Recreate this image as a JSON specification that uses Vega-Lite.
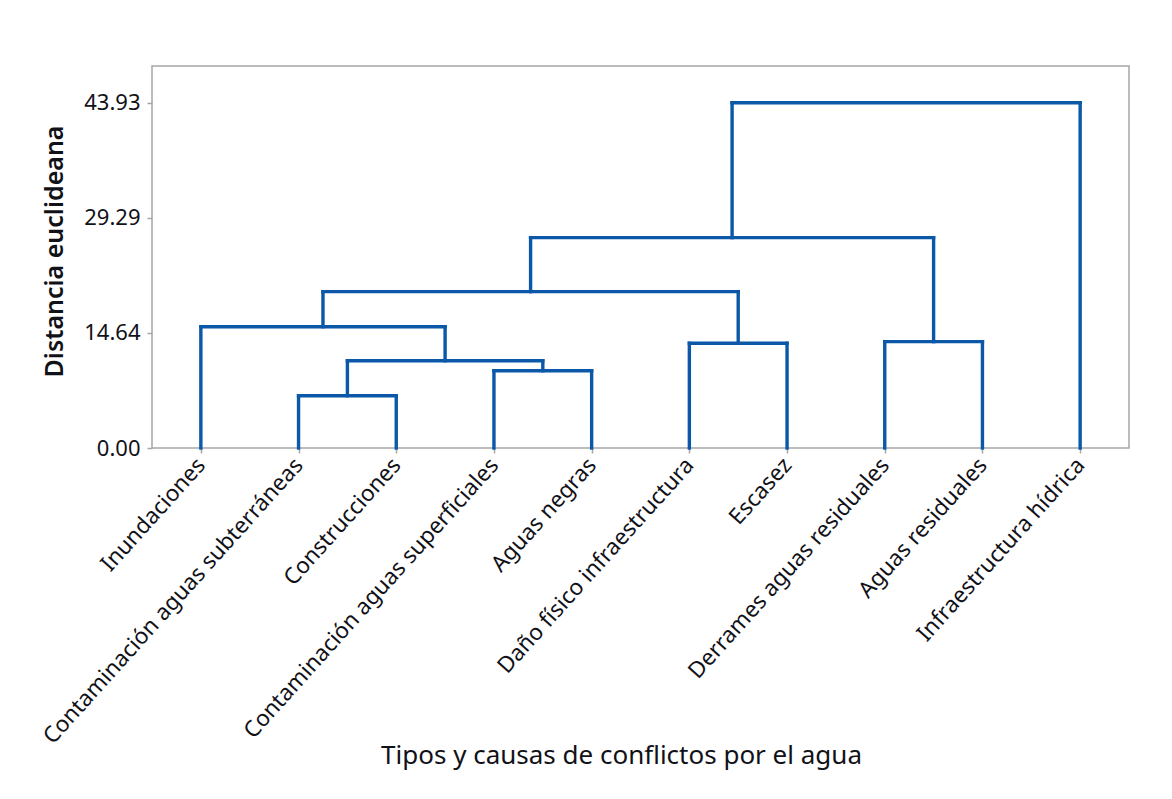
{
  "$schema": "https://vega.github.io/schema/vega-lite/v6.json",
  "width": 977,
  "height": 382,
  "autosize": {"type": "none"},
  "padding": {"left": 152, "top": 66, "right": 43, "bottom": 351},
  "background": "white",
  "config": {
    "view": {"stroke": "#a6a6a6", "strokeWidth": 1.5},
    "font": "Noto Sans"
  },
  "data": {
    "values": [
      {"cluster": "A", "xl": 2, "xr": 3, "hl": 0, "hr": 0, "h": 6.65},
      {"cluster": "B", "xl": 4, "xr": 5, "hl": 0, "hr": 0, "h": 9.83},
      {"cluster": "C", "xl": 2.5, "xr": 4.5, "hl": 6.65, "hr": 9.83, "h": 11.1},
      {"cluster": "D", "xl": 1, "xr": 3.5, "hl": 0, "hr": 11.1, "h": 15.43},
      {"cluster": "E", "xl": 6, "xr": 7, "hl": 0, "hr": 0, "h": 13.32},
      {"cluster": "F", "xl": 2.25, "xr": 6.5, "hl": 15.43, "hr": 13.32, "h": 19.89},
      {"cluster": "G", "xl": 8, "xr": 9, "hl": 0, "hr": 0, "h": 13.53},
      {"cluster": "H", "xl": 4.375, "xr": 8.5, "hl": 19.89, "hr": 13.53, "h": 26.76},
      {"cluster": "I", "xl": 6.4375, "xr": 10, "hl": 26.76, "hr": 0, "h": 43.93}
    ]
  },
  "encoding": {
    "x": {
      "type": "quantitative",
      "scale": {"domain": [0.5, 10.5], "nice": false, "zero": false},
      "axis": {
        "title": "Tipos y causas de conflictos por el agua",
        "values": [1, 2, 3, 4, 5, 6, 7, 8, 9, 10],
        "labelExpr": "['Inundaciones','Contaminación aguas subterráneas','Construcciones','Contaminación aguas superficiales','Aguas negras','Daño físico infraestructura','Escasez','Derrames aguas residuales','Aguas residuales','Infraestructura hídrica'][datum.value - 1]",
        "labelAngle": -48,
        "labelAlign": "right",
        "labelBaseline": "middle",
        "labelPadding": 8,
        "labelFontSize": 22.5,
        "labelColor": "#111118",
        "labelOverlap": false,
        "labelBound": false,
        "labelFlush": false,
        "labelLimit": 0,
        "domain": false,
        "grid": false,
        "ticks": true,
        "tickSize": 5,
        "tickColor": "#a6a6a6",
        "tickWidth": 1.5,
        "titleFontSize": 26,
        "titleFontWeight": "normal",
        "titleColor": "#111118",
        "titleX": 469,
        "titleY": 315,
        "titleBaseline": "alphabetic",
        "titleAlign": "center"
      }
    },
    "y": {
      "type": "quantitative",
      "scale": {"domain": [0, 48.6], "nice": false, "zero": false},
      "axis": {
        "title": "Distancia euclideana",
        "values": [0, 14.64, 29.29, 43.93],
        "format": ".2f",
        "labelFontSize": 22,
        "labelColor": "#111118",
        "labelPadding": 7,
        "domain": false,
        "grid": false,
        "tickSize": 5,
        "tickColor": "#a6a6a6",
        "tickWidth": 1.5,
        "titleFontSize": 25,
        "titleFontWeight": 600,
        "titleColor": "#111118",
        "titleAngle": -90,
        "titleX": -90,
        "titleY": 185,
        "titleAlign": "center",
        "titleBaseline": "alphabetic"
      }
    }
  },
  "layer": [
    {
      "mark": {"type": "rule", "color": "#0b57a8", "strokeWidth": 3.4, "strokeCap": "square"},
      "encoding": {
        "x": {"field": "xl", "type": "quantitative"},
        "y": {"field": "hl", "type": "quantitative"},
        "y2": {"field": "h"}
      }
    },
    {
      "mark": {"type": "rule", "color": "#0b57a8", "strokeWidth": 3.4, "strokeCap": "square"},
      "encoding": {
        "x": {"field": "xr", "type": "quantitative"},
        "y": {"field": "hr", "type": "quantitative"},
        "y2": {"field": "h"}
      }
    },
    {
      "mark": {"type": "rule", "color": "#0b57a8", "strokeWidth": 3.4, "strokeCap": "square"},
      "encoding": {
        "x": {"field": "xl", "type": "quantitative"},
        "x2": {"field": "xr"},
        "y": {"field": "h", "type": "quantitative"}
      }
    }
  ]
}
